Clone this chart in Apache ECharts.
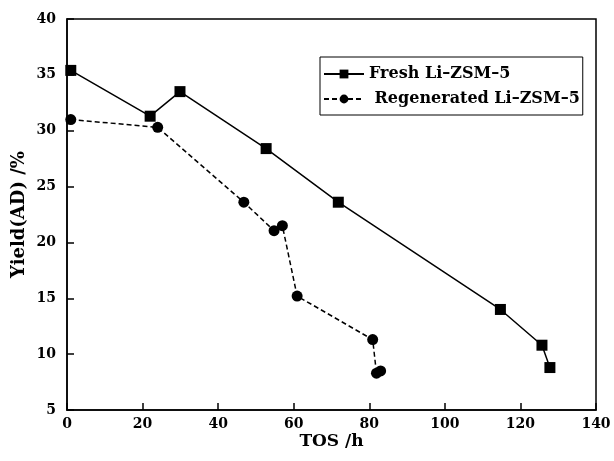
<!DOCTYPE html>
<html>
<head>
<meta charset="utf-8">
<script src="https://cdn.jsdelivr.net/npm/echarts@6/dist/echarts.min.js"></script>
<style>
  html, body { margin: 0; padding: 0; background: #fff; }
  #chart { width: 614px; height: 461px; }
</style>
</head>
<body>
<div id="chart"></div>
<script>
// series names
const seriesNames = ['Fresh Li\u2013ZSM\u20135', 'Regenerated Li\u2013ZSM\u20135'];

// Fresh catalyst: TOS (h) and yield (%)
const freshTos = [1, 22, 29.9, 52.7, 71.8, 114.7, 125.7, 127.8];
const freshYield = [35.4, 31.3, 33.5, 28.4, 23.6, 14.0, 10.8, 8.8];

// Regenerated catalyst
const regenTos = [1, 24, 46.8, 54.8, 57, 60.9, 80.9, 81.9, 83];
const regenYield = [31.0, 30.3, 23.6, 21.05, 21.5, 15.2, 11.3, 8.3, 8.5];

const font = 'DejaVu Serif';

const chart = echarts.init(document.getElementById('chart'));

let option = {
  animation: false,
  grid: {
    left: 67, right: 18, top: 19, bottom: 51,
    outerBoundsMode: 'none',
    show: true,
    borderColor: '#000',
    borderWidth: 1.5
  },
  legend: {
    orient: 'vertical',
    left: 320, top: 57,
    padding: [9, 3, 8, 3],
    itemGap: 9,
    itemWidth: 40,
    itemHeight: 11,
    borderColor: '#000',
    borderWidth: 1,
    borderRadius: 0,
    formatter: name => name === seriesNames[1] ? ' ' + name : name,
    textStyle: { fontFamily: font, fontWeight: 'bold', fontSize: 16, color: '#000' },
    data: seriesNames
  },
  xAxis: {
    type: 'value',
    min: 0, max: 140, interval: 20,
    name: 'TOS /h',
    nameLocation: 'middle',
    nameGap: 23,
    nameMoveOverlap: false,
    nameTextStyle: { fontFamily: font, fontWeight: 'bold', fontSize: 17, color: '#000' },
    axisLine: { lineStyle: { color: '#000', width: 1.5 } },
    axisTick: { inside: true, length: 7, lineStyle: { color: '#000', width: 1.5 } },
    axisLabel: { fontFamily: font, fontWeight: 'bold', fontSize: 14, color: '#000', margin: 7 },
    splitLine: { show: false }
  },
  yAxis: {
    type: 'value',
    min: 5, max: 40, interval: 5,
    name: 'Yield(AD) /%',
    nameLocation: 'middle',
    nameGap: 39,
    nameMoveOverlap: false,
    nameTextStyle: { fontFamily: font, fontWeight: 'bold', fontSize: 18, color: '#000' },
    axisLine: { lineStyle: { color: '#000', width: 1.5 } },
    axisTick: { inside: true, length: 7, lineStyle: { color: '#000', width: 1.5 } },
    axisLabel: { fontFamily: font, fontWeight: 'bold', fontSize: 14, color: '#000', margin: 11 },
    splitLine: { show: false }
  },
  series: [
    {
      name: seriesNames[0],
      type: 'line',
      symbol: 'rect',
      symbolSize: 11,
      itemStyle: { color: '#000' },
      lineStyle: { color: '#000', width: 1.5 },
      data: freshTos.map((t, i) => [t, freshYield[i]])
    },
    {
      name: seriesNames[1],
      type: 'line',
      symbol: 'circle',
      symbolSize: 11,
      itemStyle: { color: '#000' },
      lineStyle: { color: '#000', width: 1.5, type: [5, 3] },
      data: regenTos.map((t, i) => [t, regenYield[i]])
    }
  ]
};

chart.setOption(option);
</script>
</body>
</html>
